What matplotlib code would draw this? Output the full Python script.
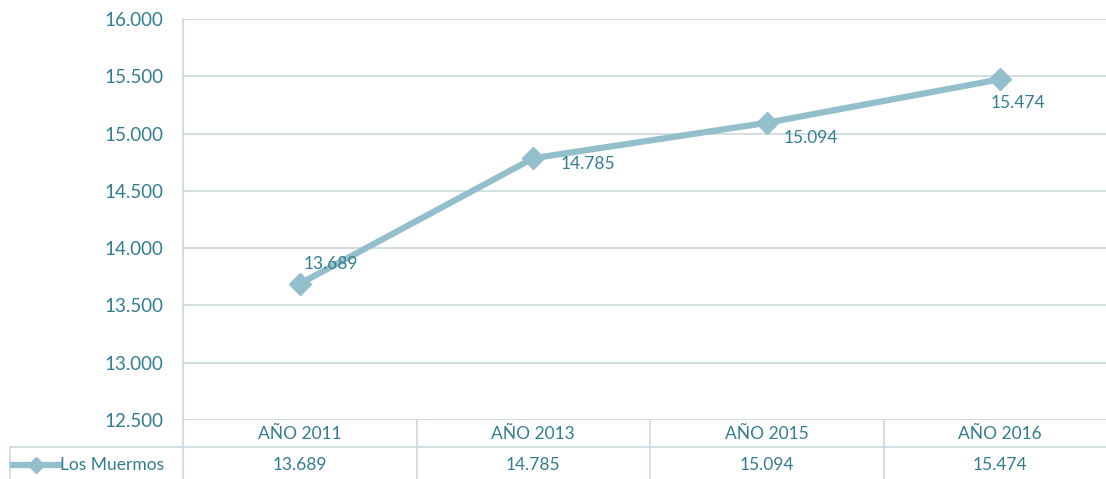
import matplotlib
matplotlib.use('Agg')
import matplotlib.pyplot as plt
from matplotlib.lines import Line2D
from matplotlib.ticker import FuncFormatter

# data
categories = ['AÑO 2011', 'AÑO 2013', 'AÑO 2015', 'AÑO 2016']
values     = [13689, 14785, 15094, 15474]
series     = 'Los Muermos'

TEXT  = '#327d8f'
LINE  = '#92bfcb'
GRID  = '#c9d8dd'

plt.rcParams['font.family'] = ['Lato', 'DejaVu Sans']

W, H = 1106, 479
fig = plt.figure(figsize=(W / 100, H / 100), dpi=100)
# plot area in pixels: x 183..1117, y 19..420
ax = fig.add_axes([183 / W, 1 - 420 / H, (1117 - 183) / W, (420 - 19) / H])

def fmt(v, _=None):
    return f'{int(round(v)):,}'.replace(',', '.')

x = list(range(len(categories)))
ax.plot(x, values, color=LINE, lw=4.5, marker='D', ms=11,
        mfc=LINE, mec=LINE, solid_capstyle='round', zorder=3)

label_offsets = [(3, 14), (20, -4), (12, -11), (-7, -17)]
for xi, v, off in zip(x, values, label_offsets):
    ax.annotate(fmt(v), (xi, v), xytext=off, textcoords='offset points',
                ha='left', va='center', fontsize=12.5, color=TEXT, zorder=4)

ax.set_xlim(-0.5, 3.5)
ax.set_ylim(12500, 16000)
ax.set_yticks(range(12500, 16001, 500))
ax.yaxis.set_major_formatter(FuncFormatter(fmt))
ax.tick_params(axis='y', length=0, pad=14, labelsize=13.5, labelcolor=TEXT)
ax.set_xticks([])
ax.grid(axis='y', color=GRID, lw=1.2)
ax.set_axisbelow(True)
for s in ['top', 'right', 'bottom']:
    ax.spines[s].set_visible(False)
ax.spines['left'].set_color(GRID)
ax.spines['left'].set_linewidth(1.2)

# data table below the plot
tr = ax.get_xaxis_transform()
ah = 420 - 19
y_mid = -(447 - 420) / ah
y_bot = -(479 - 420) / ah
ax.plot([-0.5, 3.5], [y_mid, y_mid], transform=tr, color=GRID, lw=1.2, clip_on=False)
for b in [-0.5, 0.5, 1.5, 2.5]:
    ax.plot([b, b], [0, y_bot], transform=tr, color=GRID, lw=1.2, clip_on=False)
for xi, c, v in zip(x, categories, values):
    ax.text(xi, (0 + y_mid) / 2, c, transform=tr, ha='center', va='center',
            fontsize=12.5, color=TEXT, clip_on=False)
    ax.text(xi, (y_mid + y_bot) / 2 - 0.005, fmt(v), transform=tr, ha='center',
            va='center', fontsize=12.5, color=TEXT, clip_on=False)

# legend cell of the table
ft = fig.transFigure
fig.add_artist(Line2D([10 / W, 183 / W], [1 - 447 / H] * 2, transform=ft, color=GRID, lw=1.2))
fig.add_artist(Line2D([10 / W, 10 / W], [1 - 447 / H, 0], transform=ft, color=GRID, lw=1.2))
fig.add_artist(Line2D([13 / W, 36 / W, 59 / W], [1 - 465 / H] * 3, transform=ft, color=LINE,
                      lw=4.5, marker='D', ms=8, markevery=[1], mfc=LINE, mec=LINE))
fig.text(60 / W, 1 - 465 / H, series, ha='left', va='center', fontsize=12.5, color=TEXT)

fig.savefig('out.png', dpi=100)
